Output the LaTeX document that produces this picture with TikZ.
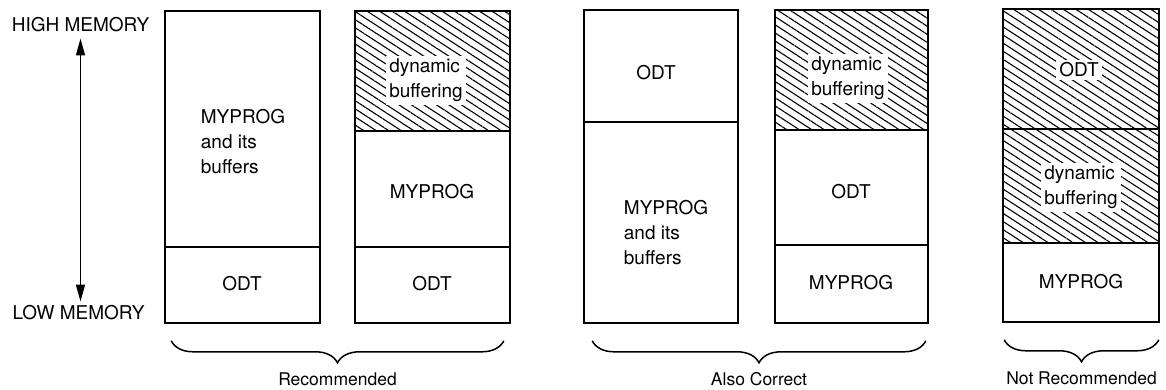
\documentclass[tikz,border=0pt]{standalone}
\usepackage{fontspec}
\setmainfont{TeX Gyre Heros}
\usepackage{tikz}
\usetikzlibrary{arrows.meta, positioning, decorations.pathreplacing, patterns.meta}

\begin{document}
\begin{tikzpicture}[x=1pt, y=-1pt,
    memblock/.style={draw, line width=1.6pt, inner sep=0pt},
    hatched/.style={memblock, pattern={Lines[angle=-33, distance=6.8pt, line width=1.1pt]}},
    memtext/.style={font=\fontsize{19}{25}\selectfont, align=left, inner sep=0pt},
    hatchtext/.style={memtext, fill=white, inner sep=3pt},
    brc/.style={decorate, decoration={brace, mirror, amplitude=22pt}, line width=1.5pt},
    grouplabel/.style={font=\fontsize{17.5}{22}\selectfont, below=29pt, inner sep=2pt}]
  \useasboundingbox (0,0) rectangle (1166,389);

  % High / low memory scale
  \node[memtext] (high) at (80.5, 25) {HIGH MEMORY};
  \node[memtext] (low) at (78.5, 313) {LOW MEMORY};
  \draw[line width=1.5pt, {Triangle[length=17pt, width=9pt]}-{Triangle[length=17pt, width=9pt]}, shorten <=6pt, shorten >=4pt]
    (high.south) -- (high.south |- low.north);

  % Recommended
  \node[memblock, minimum width=155pt, minimum height=236pt] (r1top) at (242.5, 129) {};
  \node[memblock, minimum width=155pt, minimum height=76pt] (r1bot) at (242.5, 285) {};
  \node[memtext] (r1prog) at (243, 142) {MYPROG\\and its\\buffers};
  \node[memtext] (r1odt) at (242, 284) {ODT};

  \node[hatched, minimum width=155pt, minimum height=120pt] (r2top) at (432.5, 71) {};
  \node[memblock, minimum width=155pt, minimum height=116pt] (r2mid) at (432.5, 189) {};
  \node[memblock, minimum width=155pt, minimum height=76pt] (r2bot) at (432.5, 285) {};
  \node[hatchtext] (r2dyn) at (426, 80) {dynamic\\buffering};
  \node[memtext] (r2prog) at (432, 192) {MYPROG};
  \node[memtext] (r2odt) at (432, 284) {ODT};

  % Also correct
  \node[memblock, minimum width=154pt, minimum height=112pt] (a1top) at (661, 66) {};
  \node[memblock, minimum width=154pt, minimum height=201pt] (a1bot) at (661, 222.5) {};
  \node[memtext] (a1odt) at (656, 73) {ODT};
  \node[memtext] (a1prog) at (666, 233) {MYPROG\\and its\\buffers};

  \node[hatched, minimum width=153pt, minimum height=120pt] (a2top) at (851.5, 70) {};
  \node[memblock, minimum width=153pt, minimum height=115pt] (a2mid) at (851.5, 187.5) {};
  \node[memblock, minimum width=153pt, minimum height=78pt] (a2bot) at (851.5, 284) {};
  \node[hatchtext] (a2dyn) at (848, 78) {dynamic\\buffering};
  \node[memtext] (a2odt) at (851, 192) {ODT};
  \node[memtext] (a2prog) at (851, 283) {MYPROG};

  % Not recommended
  \node[hatched, minimum width=156pt, minimum height=120pt] (n1top) at (1081, 69) {};
  \node[hatched, minimum width=156pt, minimum height=114pt] (n1mid) at (1081, 186) {};
  \node[memblock, minimum width=156pt, minimum height=79pt] (n1bot) at (1081, 282.5) {};
  \node[hatchtext] (n1odt) at (1079, 70) {ODT};
  \node[hatchtext] (n1dyn) at (1081, 187) {dynamic\\buffering};
  \node[memtext] (n1prog) at (1081, 282) {MYPROG};

  % Braces
  \draw[brc] ([xshift=7pt, yshift=-17pt]r1bot.south west) -- node[grouplabel] {Recommended} ([xshift=-7pt, yshift=-17pt]r2bot.south east);
  \draw[brc] ([xshift=9pt, yshift=-17pt]a1bot.south west) -- node[grouplabel] {Also Correct} ([xshift=-3pt, yshift=-17pt]a2bot.south east);
  \draw[brc] ([xshift=2pt, yshift=-17pt]n1bot.south west) -- node[grouplabel] {Not Recommended} ([xshift=-1pt, yshift=-17pt]n1bot.south east);
\end{tikzpicture}
\end{document}
